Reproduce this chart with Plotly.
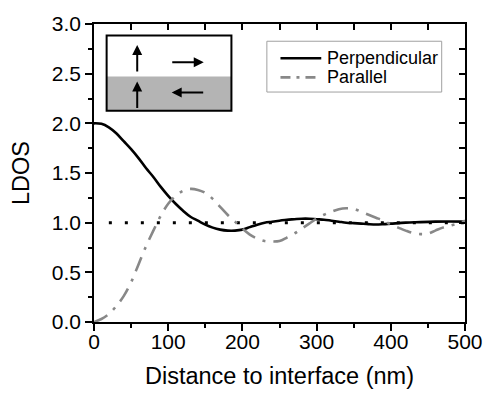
import plotly.graph_objects as go

# ---- data ----
dist_perp = [0, 10, 20, 30, 40, 50, 60, 70, 80, 90, 100, 110, 120, 130, 140, 150,
             160, 170, 180, 190, 200, 210, 220, 230, 240, 250, 260, 270, 280, 290,
             300, 310, 320, 330, 340, 350, 360, 370, 380, 390, 400, 420, 440, 460,
             480, 500]
ldos_perp = [2.00, 1.995, 1.96, 1.90, 1.82, 1.74, 1.65, 1.55, 1.46, 1.36, 1.27, 1.19,
             1.12, 1.06, 1.02, 0.98, 0.95, 0.93, 0.92, 0.92, 0.93, 0.955, 0.98, 1.00,
             1.01, 1.02, 1.03, 1.035, 1.04, 1.04, 1.035, 1.03, 1.02, 1.01, 1.00, 0.995,
             0.99, 0.985, 0.982, 0.985, 0.99, 1.00, 1.005, 1.01, 1.012, 1.01]

dist_par = [0, 10, 20, 30, 40, 50, 60, 70, 80, 90, 100, 110, 120, 130, 140, 150,
            160, 170, 180, 190, 200, 210, 220, 230, 240, 250, 260, 270, 280, 290,
            300, 310, 320, 330, 340, 350, 360, 370, 380, 390, 400, 410, 420, 430,
            440, 450, 460, 470, 480, 490, 500]
ldos_par = [0.0, 0.03, 0.08, 0.16, 0.26, 0.40, 0.58, 0.76, 0.92, 1.07, 1.19, 1.27,
            1.32, 1.34, 1.33, 1.30, 1.24, 1.16, 1.08, 1.01, 0.94, 0.88, 0.84, 0.815,
            0.81, 0.815, 0.85, 0.89, 0.94, 0.99, 1.04, 1.08, 1.11, 1.135, 1.145, 1.14,
            1.11, 1.08, 1.05, 1.02, 0.98, 0.95, 0.92, 0.895, 0.885, 0.89, 0.92, 0.95,
            0.97, 0.99, 1.02]

ref_x = [20, 500]
ref_y = [1.0, 1.0]

series_names = ["Perpendicular", "Parallel"]
x_ticks = [0, 100, 200, 300, 400, 500]
y_ticks = [0.0, 0.5, 1.0, 1.5, 2.0, 2.5, 3.0]

FONT = "Liberation Sans, Arial, sans-serif"
PERP_COLOR, PAR_COLOR = "black", "#888888"
PAR_DASH = "15px,8px,3px,8px"

fig = go.Figure()
fig.add_trace(go.Scatter(x=ref_x, y=ref_y, mode="lines", showlegend=False,
                         line=dict(color="black", width=3, dash="3px,13px"),
                         hoverinfo="skip"))
fig.add_trace(go.Scatter(x=dist_perp, y=ldos_perp, mode="lines", name=series_names[0],
                         showlegend=False,
                         line=dict(color=PERP_COLOR, width=2.6, shape="spline")))
fig.add_trace(go.Scatter(x=dist_par, y=ldos_par, mode="lines", name=series_names[1],
                         showlegend=False,
                         line=dict(color=PAR_COLOR, width=2.6, shape="spline",
                                   dash=PAR_DASH)))
# helper trace for mirrored inside ticks
fig.add_trace(go.Scatter(x=[None], y=[None], xaxis="x2", yaxis="y2",
                         showlegend=False, hoverinfo="skip"))

L, R, T, B = 94, 19, 16, 70
W, H = 495, 397
pw, ph = W - L - R, H - T - B


def px(xp):
    return (xp - L) / pw


def py(yp):
    return (H - B - yp) / ph


shapes = [
    # inset
    dict(type="rect", xref="paper", yref="paper", x0=px(107), x1=px(235.5),
         y0=py(106.5), y1=py(70.7), fillcolor="#b4b4b4", line=dict(width=0), layer="above"),
    dict(type="rect", xref="paper", yref="paper", x0=px(107), x1=px(235.5),
         y0=py(106.5), y1=py(28), line=dict(color="black", width=2), layer="above"),
    # legend box
    dict(type="rect", xref="paper", yref="paper", x0=px(272), x1=px(452),
         y0=py(87), y1=py(34), fillcolor="white", line=dict(color="#a0a0a0", width=1),
         layer="above"),
    dict(type="line", xref="paper", yref="paper", x0=px(286), x1=px(328),
         y0=py(51.7), y1=py(51.7), line=dict(color=PERP_COLOR, width=2.6), layer="above"),
    dict(type="line", xref="paper", yref="paper", x0=px(286), x1=px(328),
         y0=py(71.7), y1=py(71.7), line=dict(color=PAR_COLOR, width=2.6,
                                             dash="10px,6px,3px,6px"), layer="above"),
]

annotations = []
for (hx, hy, tx, ty) in [(138.5, 38, 138.5, 66), (138.5, 76, 138.5, 104),
                         (207, 56, 174, 56), (174, 87.5, 207, 87.5)]:
    annotations.append(dict(xref="paper", yref="paper", x=px(hx), y=py(hy),
                            ax=tx - hx, ay=ty - hy, showarrow=True, arrowhead=2,
                            arrowsize=1, arrowwidth=2, arrowcolor="black", text="",
                            standoff=0, startstandoff=0))
for name, yy in zip(series_names, [51.7, 71.7]):
    annotations.append(dict(xref="paper", yref="paper", x=px(332), y=py(yy),
                            xanchor="left", yanchor="middle", showarrow=False,
                            text=name, font=dict(size=18, family=FONT, color="black")))

fig.update_layout(
    width=W, height=H,
    margin=dict(l=L, r=R, t=T, b=B, pad=0),
    paper_bgcolor="white", plot_bgcolor="white",
    font=dict(family=FONT, color="black"),
    shapes=shapes, annotations=annotations, showlegend=False,
    xaxis=dict(range=[0, 500], tickvals=x_ticks, ticktext=[str(v) for v in x_ticks],
               ticks="outside", ticklen=7, tickwidth=1.5, tickcolor="black",
               minor=dict(tickvals=[50, 150, 250, 350, 450], ticks="outside", ticklen=4,
                          tickwidth=1.5, tickcolor="black"),
               showline=True, linecolor="black", linewidth=1.5, mirror=True,
               showgrid=False, zeroline=False, tickfont=dict(size=21),
               ticklabelstandoff=-7,
               title=dict(text="Distance to interface (nm)", font=dict(size=23.5),
                          standoff=16)),
    yaxis=dict(range=[0, 3], tickvals=y_ticks, ticktext=["%.1f" % v for v in y_ticks],
               ticks="outside", ticklen=7, tickwidth=1.5, tickcolor="black",
               minor=dict(tickvals=[0.25, 0.75, 1.25, 1.75, 2.25, 2.75], ticks="outside",
                          ticklen=4, tickwidth=1.5, tickcolor="black"),
               showline=True, linecolor="black", linewidth=1.5, mirror=True,
               showgrid=False, zeroline=False, tickfont=dict(size=21),
               title=dict(text="LDOS", font=dict(size=23.5), standoff=16)),
    xaxis2=dict(range=[0, 500], overlaying="x", side="top", anchor="y2",
                tickvals=x_ticks, showticklabels=False, ticks="inside", ticklen=6,
                tickwidth=1.5, tickcolor="black",
                minor=dict(tickvals=[50, 150, 250, 350, 450], ticks="inside", ticklen=6,
                           tickwidth=1.5, tickcolor="black"),
                showgrid=False, zeroline=False, showline=False),
    yaxis2=dict(range=[0, 3], overlaying="y", side="right", anchor="x2",
                tickvals=y_ticks, showticklabels=False, ticks="inside", ticklen=6,
                tickwidth=1.5, tickcolor="black",
                minor=dict(tickvals=[0.25, 0.75, 1.25, 1.75, 2.25, 2.75], ticks="inside",
                           ticklen=6, tickwidth=1.5, tickcolor="black"),
                showgrid=False, zeroline=False, showline=False),
)

fig.write_html("out.html")
